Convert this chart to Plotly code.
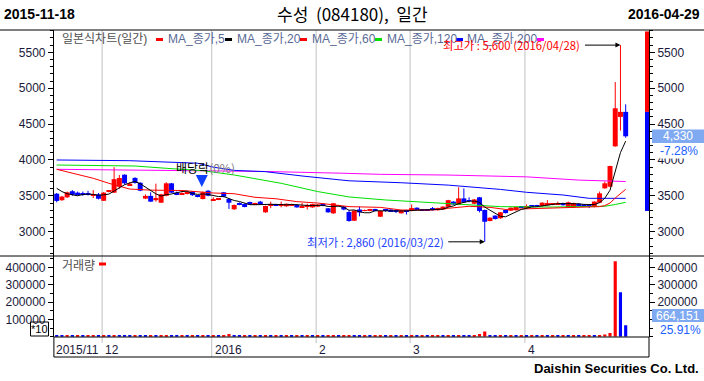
import plotly.graph_objects as go
import pandas as pd

W, H = 704, 381

# ---------------- data ----------------
HOLIDAYS = ["2015-12-25", "2015-12-31", "2016-01-01", "2016-02-08", "2016-02-09",
            "2016-02-10", "2016-03-01", "2016-04-13"]
DATES = [d for d in pd.bdate_range("2015-11-18", "2016-04-29")
         if d.strftime("%Y-%m-%d") not in HOLIDAYS]

OPEN = [3530, 3440, 3480, 3565, 3545, 3540, 3530, 3510, 3520, 3432,
        3560, 3545, 3628, 3795, 3650, 3750, 3683, 3462, 3500, 3440,
        3405, 3502, 3675, 3545, 3525, 3530, 3560, 3500, 3456, 3572,
        3440, 3445, 3550, 3456, 3313, 3395, 3387, 3415, 3380, 3420,
        3271, 3370, 3385, 3370, 3355, 3365, 3375, 3340, 3345, 3340,
        3350, 3390, 3327, 3257, 3360, 3350, 3275, 3154, 3310, 3290,
        3290, 3315, 3210, 3310, 3310, 3300, 3257, 3300, 3290, 3335,
        3310, 3305, 3330, 3300, 3310, 3347, 3420, 3373, 3465, 3440,
        3390, 3480, 3303, 3150, 3225, 3188, 3303, 3294, 3300, 3350,
        3335, 3360, 3370, 3360, 3370, 3375, 3380, 3400, 3345, 3340,
        3390, 3380, 3365, 3350, 3405, 3605, 3628, 4190, 4600, 4670]
HIGH = [3540, 3500, 3560, 3580, 3560, 3560, 3570, 3580, 3540, 3555,
        3580, 3900, 3790, 3800, 3690, 3760, 3690, 3520, 3550, 3670,
        3530, 3690, 3680, 3560, 3550, 3555, 3565, 3510, 3560, 3580,
        3480, 3470, 3555, 3470, 3380, 3410, 3395, 3420, 3405, 3430,
        3365, 3420, 3390, 3420, 3395, 3390, 3385, 3400, 3390, 3390,
        3385, 3395, 3330, 3400, 3375, 3360, 3300, 3300, 3350, 3310,
        3320, 3320, 3295, 3315, 3315, 3310, 3305, 3305, 3380, 3340,
        3315, 3310, 3345, 3335, 3355, 3445, 3425, 3620, 3605, 3480,
        3455, 3485, 3310, 3200, 3230, 3275, 3310, 3340, 3350, 3355,
        3380, 3365, 3375, 3410, 3440, 3400, 3420, 3405, 3420, 3405,
        3400, 3385, 3370, 3425, 3560, 3700, 3920, 5086, 5600, 4775]
LOW = [3410, 3430, 3470, 3500, 3505, 3500, 3505, 3470, 3450, 3430,
       3550, 3540, 3600, 3660, 3640, 3670, 3565, 3455, 3415, 3420,
       3400, 3495, 3540, 3510, 3515, 3520, 3500, 3480, 3450, 3495,
       3430, 3440, 3480, 3318, 3305, 3370, 3340, 3375, 3375, 3390,
       3265, 3330, 3365, 3340, 3350, 3360, 3335, 3335, 3310, 3335,
       3345, 3355, 3265, 3250, 3355, 3300, 3140, 3150, 3215, 3285,
       3285, 3285, 3205, 3280, 3280, 3260, 3255, 3240, 3285, 3310,
       3295, 3290, 3295, 3295, 3305, 3340, 3375, 3370, 3400, 3410,
       3385, 3270, 2860, 3145, 3170, 3182, 3255, 3290, 3295, 3335,
       3320, 3345, 3355, 3355, 3365, 3370, 3375, 3365, 3340, 3335,
       3365, 3350, 3330, 3340, 3400, 3600, 3620, 4185, 4410, 4310]
CLOSE = [3430, 3490, 3550, 3515, 3520, 3520, 3520, 3525, 3460, 3545,
         3575, 3733, 3749, 3675, 3670, 3680, 3572, 3500, 3420, 3470,
         3522, 3675, 3545, 3520, 3540, 3545, 3510, 3490, 3550, 3502,
         3455, 3455, 3490, 3405, 3373, 3385, 3345, 3380, 3400, 3395,
         3359, 3380, 3370, 3380, 3390, 3385, 3340, 3355, 3365, 3385,
         3380, 3360, 3271, 3397, 3370, 3310, 3150, 3294, 3270, 3300,
         3310, 3290, 3290, 3290, 3285, 3285, 3300, 3285, 3330, 3315,
         3300, 3298, 3300, 3330, 3350, 3440, 3380, 3465, 3410, 3430,
         3450, 3290, 3140, 3196, 3178, 3271, 3260, 3335, 3345, 3340,
         3355, 3350, 3360, 3405, 3400, 3395, 3395, 3370, 3410, 3400,
         3370, 3355, 3350, 3420, 3535, 3675, 3916, 4720, 4670, 4330]
VOLUME = [62000, 55000, 60000, 52000, 58000, 50000, 56000, 60000, 54000, 62000,
          55000, 70000, 64000, 58000, 52000, 60000, 57000, 52000, 59000, 54000,
          60000, 66000, 58000, 52000, 56000, 50000, 55000, 50000, 58000, 53000,
          57000, 52000, 60000, 150000, 62000, 55000, 60000, 54000, 58000, 52000,
          60000, 55000, 58000, 53000, 59000, 54000, 60000, 55000, 58000, 52000,
          57000, 53000, 60000, 66000, 55000, 58000, 62000, 57000, 52000, 56000,
          53000, 58000, 60000, 52000, 57000, 53000, 60000, 55000, 58000, 52000,
          57000, 54000, 58000, 62000, 56000, 80000, 62000, 90000, 60000, 55000,
          60000, 160000, 300000, 70000, 58000, 62000, 55000, 60000, 54000, 58000,
          53000, 57000, 52000, 60000, 55000, 59000, 54000, 58000, 53000, 57000,
          52000, 58000, 62000, 56000, 90000, 120000, 220000, 4350000, 2563300, 664151]
VOL_UNIT = 10

# moving averages (index, value)
MA5_HEAD = [3605, 3560, 3530, 3515]
MA20_X = [0, 3, 7, 10, 12, 14, 18, 24, 30, 34, 38, 42, 46, 50, 56, 62, 66, 72, 75, 79, 83, 86, 90, 95, 100, 103, 104, 105, 106, 107, 108, 109]
MA20_Y = [3870, 3815, 3745, 3675, 3638, 3595, 3580, 3575, 3540, 3530, 3480, 3460, 3420, 3400, 3350, 3340, 3303, 3303, 3327, 3355, 3340, 3311, 3320, 3330, 3335, 3340, 3350, 3365, 3400, 3470, 3535, 3592]
MA60_X = [0, 15, 21, 28, 34, 43, 50, 56, 63, 68, 75, 85, 95, 103, 105, 107, 109]
MA60_Y = [3930, 3916, 3884, 3851, 3791, 3675, 3560, 3485, 3443, 3420, 3397, 3350, 3345, 3345, 3355, 3380, 3410]
MA120_X = [0, 14, 27, 30, 34, 40, 47, 56, 66, 75, 85, 90, 97, 102, 109]
MA120_Y = [4000, 3990, 3955, 3900, 3855, 3837, 3777, 3710, 3683, 3650, 3590, 3550, 3512, 3466, 3466]
MA200_X = [0, 28, 40, 55, 62, 75, 90, 100, 109]
MA200_Y = [3870, 3850, 3840, 3815, 3800, 3790, 3765, 3720, 3700]

HIGH_MARK = (108, 5600, "2016/04/28")
LOW_MARK = (82, 2860, "2016/03/22")
EXDIV_IDX = 28
RANGE_BAR = (3290, 4670)

TITLE = "수성&nbsp;&nbsp;(084180),&nbsp;&nbsp;일간"
FOOTER = "Daishin Securities Co. Ltd."

# ---------------- helpers ----------------
def px(x):
    return x / W

def py(y):
    return 1 - y / H

RED, BLUE = "#ff0000", "#0000ff"
KR = "Noto Sans CJK KR"
NUM = "Liberation Sans"
MIX = "Liberation Sans, Noto Sans CJK KR"

X0_PIX, STEP = 56.7, 5.22
PL, PR = 53.9, 649.0
XR = [(PL - X0_PIX) / STEP, (PR - X0_PIX) / STEP]
P_TOP, P_BOT = 30, 256
V_TOP, V_BOT = 256, 336.7
PRICE_R = [5500 - (P_BOT - 52.3) * 13.93, 5500 + (52.3 - P_TOP) * 13.93]
VOL_R = [0, (V_BOT - V_TOP) / 17.33 * 100000]

n = len(CLOSE)
idx = list(range(n))

fig = go.Figure()

# wicks
for col, cond in ((RED, True), (BLUE, False)):
    xs, ys = [], []
    for i in idx:
        if (CLOSE[i] >= OPEN[i]) == cond:
            xs += [i, i, None]
            ys += [LOW[i], HIGH[i], None]
    fig.add_trace(go.Scatter(x=xs, y=ys, mode="lines", line=dict(color=col, width=1),
                             hoverinfo="skip", xaxis="x", yaxis="y"))

# bodies
colors = [RED if c >= o else BLUE for o, c in zip(OPEN, CLOSE)]
fig.add_trace(go.Bar(x=idx, y=[max(abs(c - o), 12) for o, c in zip(OPEN, CLOSE)],
                     base=[min(o, c) for o, c in zip(OPEN, CLOSE)], width=0.95,
                     marker=dict(color=colors, line=dict(width=0)), xaxis="x", yaxis="y"))

# moving averages
ma5 = MA5_HEAD + list(pd.Series(CLOSE).rolling(5).mean().iloc[len(MA5_HEAD):])
fig.add_trace(go.Scatter(x=MA200_X, y=MA200_Y, mode="lines", line=dict(color="#ff00ff", width=1), xaxis="x", yaxis="y"))
fig.add_trace(go.Scatter(x=MA120_X, y=MA120_Y, mode="lines", line=dict(color="#0000ff", width=1), xaxis="x", yaxis="y"))
fig.add_trace(go.Scatter(x=MA60_X, y=MA60_Y, mode="lines", line=dict(color="#00e000", width=1), xaxis="x", yaxis="y"))
fig.add_trace(go.Scatter(x=MA20_X, y=MA20_Y, mode="lines", line=dict(color="#ff0000", width=1), xaxis="x", yaxis="y"))
fig.add_trace(go.Scatter(x=idx, y=ma5, mode="lines", line=dict(color="#000000", width=1), xaxis="x", yaxis="y"))

# volume
vcol = [BLUE] + [RED if VOLUME[i] >= VOLUME[i - 1] else BLUE for i in range(1, n)]
fig.add_trace(go.Bar(x=idx, y=[v / VOL_UNIT for v in VOLUME], width=0.6,
                     marker=dict(color=vcol, line=dict(width=0)), xaxis="x2", yaxis="y2"))

# ---------------- axes ----------------
tickfont = dict(family=NUM, size=12, color="#1a1a3a")
p_ticks = [3000, 3500, 4000, 4500, 5000, 5500]
v_ticks = [100000, 200000, 300000, 400000]
yax_common = dict(range=PRICE_R, tickvals=p_ticks, ticks="outside", ticklen=5, tickcolor="black",
                  showline=True, linecolor="black", linewidth=1, showgrid=False, zeroline=False,
                  tickfont=tickfont, minor=dict(dtick=100, tick0=0, ticks="outside", ticklen=3, tickcolor="black"))
vax_common = dict(range=VOL_R, tickvals=v_ticks, ticks="outside", ticklen=5,
                  tickcolor="black", showline=True, linecolor="black", linewidth=1, showgrid=False,
                  zeroline=False, tickfont=tickfont,
                  minor=dict(dtick=50000, tick0=0, ticks="outside", ticklen=3, tickcolor="black"))

fig.update_layout(
    width=W, height=H, autosize=False, margin=dict(l=0, r=0, t=0, b=0),
    paper_bgcolor="white", plot_bgcolor="white", showlegend=False, barmode="overlay",
    xaxis=dict(domain=[px(PL), px(PR)], range=XR, visible=False, anchor="y"),
    xaxis2=dict(domain=[px(PL), px(PR)], range=XR, visible=False, anchor="y2"),
    yaxis=dict(domain=[py(P_BOT), py(P_TOP)], anchor="x", side="left", **yax_common),
    yaxis3=dict(overlaying="y", anchor="x", side="right", **yax_common),
    yaxis2=dict(domain=[py(V_BOT), py(V_TOP)], anchor="x2", side="left",
                ticktext=[str(v) for v in v_ticks], **vax_common),
    yaxis4=dict(overlaying="y2", anchor="x2", side="right",
                ticktext=[""] + [str(v) for v in v_ticks[1:]], **vax_common),
)
# dummy traces to activate right axes
fig.add_trace(go.Scatter(x=[None], y=[None], xaxis="x", yaxis="y3", showlegend=False))
fig.add_trace(go.Scatter(x=[None], y=[None], xaxis="x2", yaxis="y4", showlegend=False))

shapes = []
ann = []

def line(x0, y0, x1, y1, color="black", width=1):
    shapes.append(dict(type="line", xref="paper", yref="paper", x0=px(x0), y0=py(y0), x1=px(x1), y1=py(y1),
                       line=dict(color=color, width=width)))

def text(t, x, y, size=12, color="black", family=KR, xanchor="left", **kw):
    ann.append(dict(text=t, x=px(x), y=py(y), xref="paper", yref="paper", xanchor=xanchor, yanchor="middle",
                    showarrow=False, font=dict(family=family, size=size, color=color), **kw))

# frame lines
line(0, P_TOP, W, P_TOP)
line(0, V_TOP, W, V_TOP)
line(PL, 337, PR, 337)
line(PL, 357, PR, 357)
line(PL, 337, PL, 357)
line(PR, 337, PR, 357)

# month grid lines + date labels
starts = [0]
for i in range(1, n):
    if DATES[i].month != DATES[i - 1].month:
        starts.append(i)
labels = []
for k, i in enumerate(starts):
    d = DATES[i]
    if k == 0:
        labels.append(d.strftime("%Y/%m"))
    elif d.month == 1:
        labels.append(str(d.year))
    else:
        labels.append(str(d.month))
for k, i in enumerate(starts):
    xg = i - 0.3
    if k > 0:
        bottom = 357 if DATES[i].month == 1 else 343
        shapes.append(dict(type="line", xref="x", yref="paper", x0=xg, x1=xg, y0=py(bottom), y1=py(P_TOP),
                           line=dict(color="#c0c0c0", width=1), layer="below"))
    ann.append(dict(text=labels[k], x=(xg if k > 0 else XR[0]), xref="x", y=py(350), yref="paper",
                    xanchor="left", yanchor="middle", showarrow=False, xshift=(1 if k > 0 else 0),
                    font=dict(family=NUM, size=12, color="#1a1a3a")))

# right range bar
shapes.append(dict(type="rect", xref="paper", yref="y", x0=px(645), x1=px(649), y0=RANGE_BAR[1], y1=PRICE_R[1] - 20,
                   fillcolor=RED, line=dict(width=0)))
shapes.append(dict(type="rect", xref="paper", yref="y", x0=px(645), x1=px(649), y0=RANGE_BAR[0], y1=RANGE_BAR[1],
                   fillcolor=BLUE, line=dict(width=0)))

# last price label
last, prev = CLOSE[-1], CLOSE[-2]
ly = 52.3 + (5500 - last) / 13.93
shapes.append(dict(type="rect", xref="paper", yref="paper", x0=px(652), x1=px(704),
                   y0=py(ly + 6.7), y1=py(ly - 6.7), fillcolor="#7faaf2", line=dict(width=0)))
text(f"{last:,}", 678, ly, color="white", family=NUM, xanchor="center")
text(f"{(last / prev - 1) * 100:.2f}%", 679, 150.5, color="#2060ff", family=NUM, xanchor="center",
     bgcolor="white", borderpad=0)
# last volume label
shapes.append(dict(type="rect", xref="paper", yref="paper", x0=px(652), x1=px(704), y0=py(322), y1=py(309),
                   fillcolor="#7faaf2", line=dict(width=0)))
text(f"{VOLUME[-1]:,}", 678, 315.5, color="white", family=NUM, xanchor="center")
text(f"{VOLUME[-1] / VOLUME[-2] * 100:.2f}%", 680, 330, color="#2060ff", family=NUM, xanchor="center")

# *10 box
shapes.append(dict(type="rect", xref="paper", yref="paper", x0=px(30.5), x1=px(48.5), y0=py(336), y1=py(322),
                   line=dict(color="black", width=1)))
text(f"*{VOL_UNIT}", 39.5, 329, size=11, family=NUM, xanchor="center")

# header / footer
text("<b>" + DATES[0].strftime("%Y-%m-%d") + "</b>", 2, 14, size=14, family=NUM)
text("<b>" + DATES[-1].strftime("%Y-%m-%d") + "</b>", 702, 14, size=14, family=NUM, xanchor="right")
text(TITLE, 352, 14, size=17, xanchor="center")
text("<b>" + FOOTER + "</b>", 701, 368, size=13, family=NUM, xanchor="right")

# legend
leg = [("일본식차트(일간)", 60, "#505050", RED),
       ("MA_종가,5", 166, "#5a6a96", "#000000"),
       ("MA_종가,20", 235, "#5a6a96", RED),
       ("MA_종가,60", 310, "#5a6a96", "#00e000"),
       ("MA_종가,120", 385, "#5a6a96", "#0000ff"),
       ("MA_종가,200", 465, "#5a6a96", "#ff00ff")]
mark_x = [156, 225, 300, 375, 456, 537]
for (txt, x, c, mc), mx in zip(leg, mark_x):
    text(txt, x, 39.5, color=c, family=MIX)
    shapes.append(dict(type="rect", xref="paper", yref="paper", x0=px(mx), x1=px(mx + 7), y0=py(41), y1=py(38),
                       fillcolor=mc, line=dict(width=0)))
text("거래량", 60, 264, color="#505050")
shapes.append(dict(type="rect", xref="paper", yref="paper", x0=px(99), x1=px(106), y0=py(265.5), y1=py(262.5),
                   fillcolor=RED, line=dict(width=0)))

# high / low annotations
hi_i, hi_v, hi_d = HIGH_MARK
lo_i, lo_v, lo_d = LOW_MARK
ann.append(dict(text=f"최고가 : {hi_v:,} ({hi_d})", x=hi_i - 7.3, y=hi_v, xref="x", yref="y", xanchor="right",
                yanchor="middle", showarrow=False, font=dict(family=KR, size=11.3, color=RED)))
ann.append(dict(x=hi_i, y=hi_v, ax=-37, ay=0, xref="x", yref="y", axref="pixel", ayref="pixel",
                showarrow=True, arrowhead=2, arrowsize=1, arrowwidth=1, arrowcolor="black", text=""))
ann.append(dict(text=f"최저가 : {lo_v:,} ({lo_d})", x=lo_i - 7.5, y=lo_v, xref="x", yref="y", xanchor="right",
                yanchor="middle", showarrow=False, font=dict(family=KR, size=11.3, color="#2040ff")))
ann.append(dict(x=lo_i, y=lo_v, ax=-38, ay=0, xref="x", yref="y", axref="pixel", ayref="pixel",
                showarrow=True, arrowhead=2, arrowsize=1, arrowwidth=1, arrowcolor="black", text=""))

# ex-dividend marker
ann.append(dict(text="배당락<span style='color:#808080'>(0%)</span>", x=EXDIV_IDX + 0.3, y=py(167.5), xref="x",
                yref="paper", xanchor="center", yanchor="middle", xshift=1, showarrow=False,
                font=dict(family=KR, size=12, color="black")))
ann.append(dict(x=EXDIV_IDX - 0.2, y=py(187), ax=0, ay=-11, xref="x", yref="paper", axref="pixel",
                ayref="pixel", showarrow=True, arrowhead=2, arrowsize=1.2, arrowwidth=2, arrowcolor="#1040ff", text=""))

fig.update_layout(shapes=shapes, annotations=ann)
fig.write_html("out.html", config={"displayModeBar": False},
               post_script="document.body.style.margin='0px';")
